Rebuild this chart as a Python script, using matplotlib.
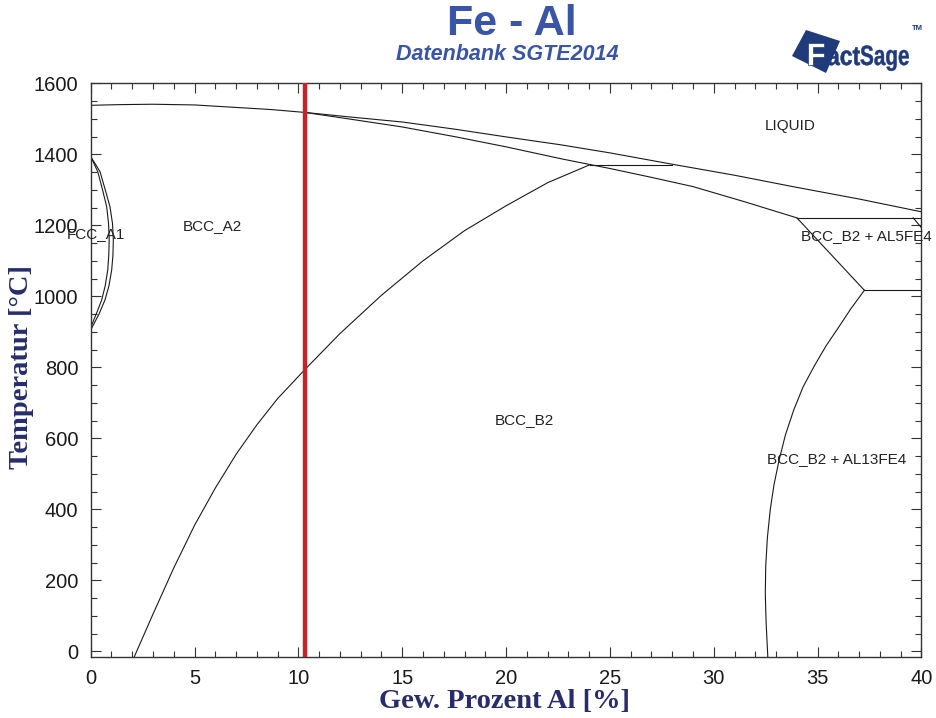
import matplotlib
matplotlib.use("Agg")
import matplotlib.pyplot as plt
from matplotlib.patches import Polygon, PathPatch
from matplotlib.textpath import TextPath
from matplotlib.transforms import Affine2D
from matplotlib.font_manager import FontProperties
from matplotlib.ticker import MultipleLocator

# --- phase boundaries (wt.% Al, °C) ---
liquidus_x = [0.0, 1.5, 3.0, 5.0, 7.0, 8.7, 10.3, 12.5, 15.0, 17.5, 20.0, 22.6, 25.0,
              28.0, 31.0, 33.8, 37.0, 40.0]
liquidus_T = [1538, 1540, 1541, 1539, 1532, 1526, 1518, 1505, 1491, 1471, 1449, 1427, 1404,
              1372, 1341, 1309, 1274, 1238]

solidus_x = [10.3, 12.5, 15.0, 17.5, 20.0, 22.6, 24.05, 25.0, 27.0, 29.0, 31.5, 34.0]
solidus_T = [1518, 1499, 1477, 1450, 1421, 1388, 1371, 1360, 1335, 1309, 1266, 1221]

a2b2_x = [2.1, 3.0, 4.0, 5.0, 6.0, 7.0, 8.0, 9.0, 10.3, 12.0, 14.0, 16.0, 18.0, 20.0, 22.0, 24.05]
a2b2_T = [-15, 105, 235, 355, 460, 555, 638, 712, 793, 895, 1003, 1100, 1185, 1255, 1320, 1371]

fcc_outer_x = [0.0, 0.2, 0.45, 0.7, 0.93, 1.05, 1.09, 1.07, 1.01, 0.88, 0.69, 0.4, 0.0]
fcc_outer_T = [1393, 1375, 1351, 1300, 1252, 1205, 1159, 1115, 1074, 1030, 990, 950, 905]
fcc_inner_x = [0.0, 0.15, 0.34, 0.57, 0.77, 0.86, 0.89, 0.87, 0.82, 0.7, 0.53, 0.3, 0.0]
fcc_inner_T = [1393, 1375, 1351, 1300, 1252, 1205, 1159, 1115, 1074, 1030, 990, 955, 912]

peritectic_x = [24.05, 28.0]
peritectic_T = [1371, 1371]

al5fe4_top_x = [34.0, 40.0]
al5fe4_top_T = [1221, 1221]
al5fe4_left_x = [34.0, 37.25]
al5fe4_left_T = [1221, 1017]
al5fe4_right_x = [39.6, 40.0]
al5fe4_right_T = [1221, 1193]
eutectoid_x = [37.25, 40.0]
eutectoid_T = [1017, 1017]

al13fe4_x = [37.25, 36.6, 36.0, 35.4, 34.85, 34.3, 33.85, 33.45, 33.15, 32.9, 32.72,
             32.58, 32.5, 32.48, 32.52, 32.6]
al13fe4_T = [1017, 965, 912, 860, 805, 745, 680, 610, 540, 470, 400,
             320, 240, 160, 80, -15]

alloy_x = 10.3

phase_labels = ["LIQUID", "BCC_B2 + AL5FE4", "BCC_B2 + AL13FE4", "BCC_B2", "BCC_A2", "FCC_A1"]
phase_label_x = [33.7, 37.33, 35.93, 20.87, 5.86, 0.23]
phase_label_T = [1479, 1171, 543, 652, 1198, 1175]

x_ticks = [0, 5, 10, 15, 20, 25, 30, 35, 40]
T_ticks = [0, 200, 400, 600, 800, 1000, 1200, 1400, 1600]

navy = "#272c6b"
blue = "#3a55a6"
line_kw = dict(color="#1a1a1a", lw=0.8, solid_joinstyle="round")

W, H = 936, 718
fig = plt.figure(figsize=(W / 100, H / 100), dpi=100)
ax = fig.add_axes([0.0969, 0.0854, 0.8876, 0.7986])

for xs, ts in [(liquidus_x, liquidus_T), (solidus_x, solidus_T), (a2b2_x, a2b2_T),
               (fcc_outer_x, fcc_outer_T), (fcc_inner_x, fcc_inner_T),
               (peritectic_x, peritectic_T), (al5fe4_top_x, al5fe4_top_T),
               (al5fe4_left_x, al5fe4_left_T), (al5fe4_right_x, al5fe4_right_T),
               (eutectoid_x, eutectoid_T), (al13fe4_x, al13fe4_T)]:
    ax.plot(xs, ts, **line_kw)

ax.axvline(alloy_x, color="#c8222b", lw=3.2, zorder=5)

for lab, lx, lt in zip(phase_labels, phase_label_x, phase_label_T):
    ax.text(lx, lt, lab, ha="center", va="center", fontsize=11,
            family="Liberation Sans", color="#222222", clip_on=False)

ax.set_xlim(0, 40)
ax.set_ylim(-15, 1600)
ax.set_xticks(x_ticks)
ax.set_yticks(T_ticks)
ax.xaxis.set_minor_locator(MultipleLocator(1))
ax.yaxis.set_minor_locator(MultipleLocator(50))
ax.tick_params(which="both", direction="in", top=True, right=True,
               colors="#333333", labelcolor="#1a1a1a", width=0.8)
ax.tick_params(which="major", length=7, pad=9, labelsize=14.5)
ax.tick_params(which="minor", length=4)
for lbl in ax.get_xticklabels() + ax.get_yticklabels():
    lbl.set_family("Liberation Sans")
for sp in ax.spines.values():
    sp.set_linewidth(1.0)
    sp.set_color("#333333")

ax.set_xlabel("Gew. Prozent Al [%]", family="Liberation Serif", fontweight="bold",
              fontsize=20.5, color=navy, va="center")
ax.xaxis.set_label_coords(0.4975, -0.079)
ax.set_ylabel("Temperatur [°C]", family="Liberation Serif", fontweight="bold",
              fontsize=20.5, color=navy, va="center")
ax.yaxis.set_label_coords(-0.0827, 0.505)

fig.text(512 / W, 1 - 24 / H, "Fe - Al", ha="center", va="center",
         family="Liberation Sans", fontweight="bold", fontsize=31, color=blue)
fig.text(507 / W, 1 - 54 / H, "Datenbank SGTE2014", ha="center", va="center",
         family="Liberation Sans", fontweight="bold", style="italic", fontsize=15.5, color=blue)

# FactSage logo, built from condensed glyph outlines in pixel units
logo_navy = "#1f3b7c"
quad = [(806, 30), (840, 41), (826, 73), (792, 56)]
fig.patches.append(Polygon([(px / W, 1 - py / H) for px, py in quad],
                           closed=True, transform=fig.transFigure,
                           facecolor=logo_navy, edgecolor="none"))

bold_font = FontProperties(family="Liberation Sans", weight="bold")


def logo_word(s, x0, base, em, cond, fc, ec, lw):
    tp = TextPath((0, 0), s, size=1, prop=bold_font)
    tr = Affine2D().scale(em * cond / W, em / H).translate(x0 / W, 1 - base / H) + fig.transFigure
    fig.patches.append(PathPatch(tp, transform=tr, facecolor=fc, edgecolor=ec, lw=lw))


logo_word("F", 806, 65, 32, 1.0, "white", logo_navy, 0.5)
logo_word("act", 827, 65, 27, 0.85, logo_navy, logo_navy, 0.4)
logo_word("Sage", 860, 65, 28, 0.74, logo_navy, logo_navy, 0.3)
fig.text(912 / W, 1 - 29 / H, "TM", ha="left", va="center",
         family="Liberation Sans", fontweight="bold", fontsize=5.5, color=logo_navy)

fig.savefig("out.png", dpi=100)
